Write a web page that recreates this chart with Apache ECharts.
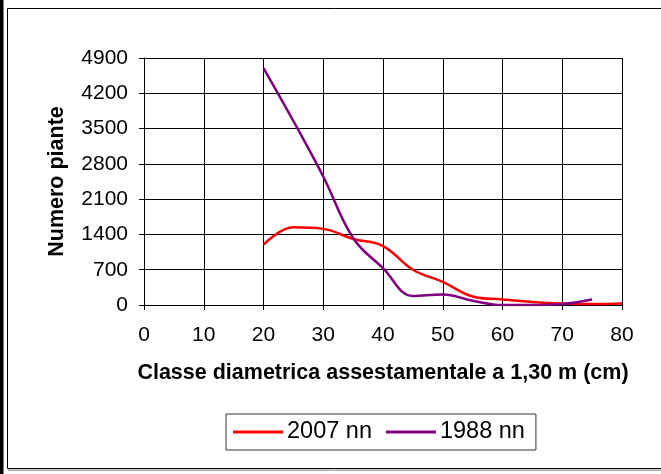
<!DOCTYPE html>
<html>
<head>
<meta charset="utf-8">
<title>Numero piante</title>
<script src="https://cdn.jsdelivr.net/npm/echarts@6/dist/echarts.min.js"></script>
<style>
  html, body {
    margin: 0;
    padding: 0;
    background: #fff;
  }
  #chart {
    width: 661px;
    height: 474px;
  }
</style>
</head>
<body>
<div id="chart"></div>
<script>
// classi diametriche (cm)
var classi = [20, 25, 30, 35, 40, 45, 50, 55, 60, 65, 70, 75, 80];
var piante2007 = [1200, 1540, 1510, 1310, 1170, 700, 460, 170, 110, 60, 30, 20, 30];
var piante1988 = [4700, 3650, 2550, 1330, 730, 180, 210, 85, 0, 0, 20, 110];
var nomiSerie = ['2007 nn', '1988 nn'];

function coppie(xs, ys) {
  var out = [];
  for (var i = 0; i < ys.length; i++) {
    out.push([xs[i], ys[i]]);
  }
  return out;
}

var FONT = "'Liberation Sans', Arial, sans-serif";

var chart = echarts.init(document.getElementById('chart'), null, { renderer: 'canvas' });

var option = {
  backgroundColor: '#fff',
  animation: false,
  textStyle: { fontFamily: FONT, color: '#000' },
  grid: {
    left: 144,
    right: 39,
    top: 58,
    bottom: 169,
    containLabel: false
  },
  legend: {
    data: nomiSerie,
    left: 226,
    top: 414,
    orient: 'horizontal',
    icon: 'rect',
    itemWidth: 50,
    itemHeight: 3,
    itemGap: 14,
    padding: [6, 11, 6, 7],
    borderColor: '#333',
    borderWidth: 1,
    borderRadius: 0,
    textStyle: { fontFamily: FONT, fontSize: 23.5, color: '#000', padding: [0, 0, 0, -1] }
  },
  xAxis: {
    type: 'value',
    min: 0,
    max: 80,
    interval: 10,
    name: 'Classe diametrica assestamentale a 1,30 m (cm)',
    nameLocation: 'middle',
    nameGap: 57,
    nameTextStyle: { fontFamily: FONT, fontSize: 21.5, fontWeight: 'bold', color: '#000' },
    axisLine: { show: true, lineStyle: { color: '#000', width: 1 } },
    axisTick: { show: true, inside: false, length: 5, lineStyle: { color: '#000' } },
    axisLabel: { fontFamily: FONT, fontSize: 21, color: '#000', margin: 20 },
    splitLine: { show: true, lineStyle: { color: '#000', width: 1 } }
  },
  yAxis: {
    type: 'value',
    min: 0,
    max: 4900,
    interval: 700,
    name: 'Numero piante',
    nameLocation: 'middle',
    nameRotate: 90,
    nameGap: 76,
    nameTextStyle: { fontFamily: FONT, fontSize: 21.5, fontWeight: 'bold', color: '#000' },
    axisLine: { show: true, lineStyle: { color: '#000', width: 1 } },
    axisTick: { show: true, inside: false, length: 5, lineStyle: { color: '#000' } },
    axisLabel: {
      fontFamily: FONT,
      fontSize: 21,
      color: '#000',
      margin: 16,
      formatter: function (v) { return String(v); }
    },
    splitLine: { show: true, lineStyle: { color: '#000', width: 1 } }
  },
  series: [
    {
      name: nomiSerie[0],
      type: 'line',
      data: coppie(classi, piante2007),
      smooth: 0.4,
      showSymbol: false,
      symbol: 'none',
      itemStyle: { color: '#ff0000' },
      lineStyle: { color: '#ff0000', width: 2.5 },
      z: 3
    },
    {
      name: nomiSerie[1],
      type: 'line',
      data: coppie(classi, piante1988),
      smooth: 0.4,
      showSymbol: false,
      symbol: 'none',
      itemStyle: { color: '#800080' },
      lineStyle: { color: '#800080', width: 2.5 },
      z: 4
    }
  ],
  graphic: [
    // cornice del grafico
    {
      type: 'rect',
      shape: { x: 7.5, y: 8.5, width: 700, height: 460 },
      style: { fill: null, stroke: '#000', lineWidth: 1 },
      silent: true
    },
    {
      type: 'rect',
      shape: { x: 8, y: 469.5, width: 700, height: 1.5 },
      style: { fill: '#aaa' },
      silent: true
    },
    // bordo nero a sinistra
    {
      type: 'rect',
      shape: { x: 0, y: 0, width: 3.5, height: 474 },
      style: { fill: '#000' },
      silent: true
    }
  ]
};

chart.setOption(option);
</script>
</body>
</html>
